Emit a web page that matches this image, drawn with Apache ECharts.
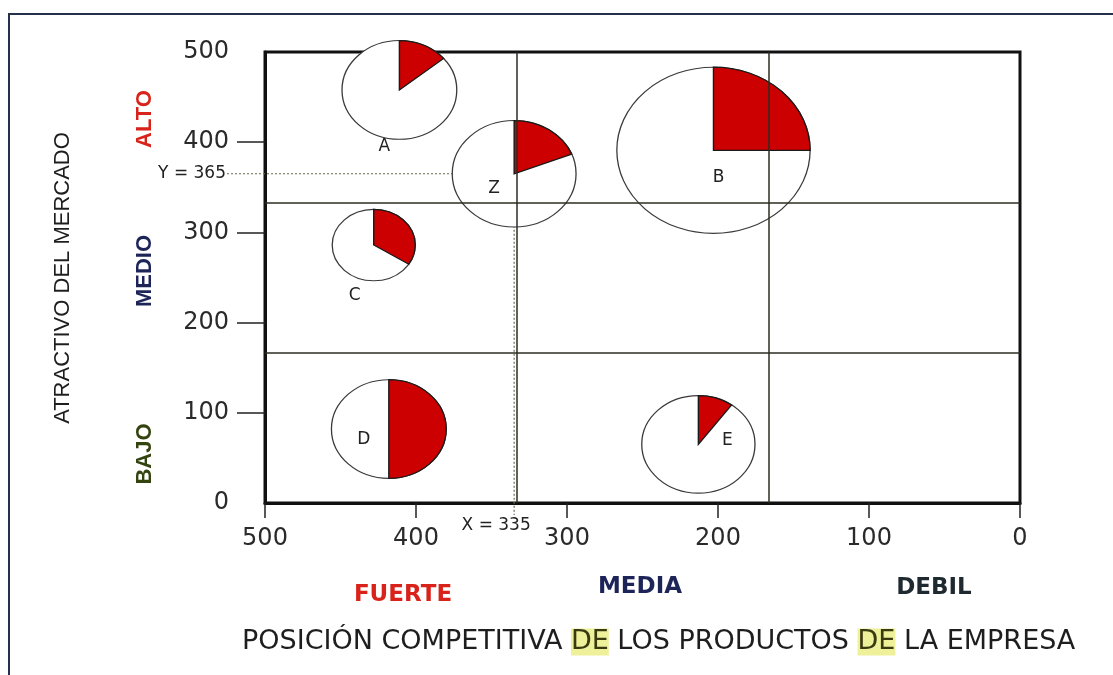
<!DOCTYPE html>
<html>
<head>
    <meta charset="utf-8">
    <title>Matriz de posición competitiva</title>
    <script src="https://cdn.jsdelivr.net/npm/echarts@6/dist/echarts.min.js"></script>
    <style>
        html, body { margin: 0; padding: 0; background: #fff; }
        #main { width: 1113px; height: 675px; }
    </style>
</head>
<body>
    <div id="main"></div>
    <script type="text/javascript">
        // productos: posicion competitiva (x) y atractivo del mercado (y)
        var productos = ['A', 'B', 'Z', 'C', 'D', 'E'];
        var posicion = [411, 203, 335, 428, 418, 213];
        var atractivo = [458, 391, 365, 286, 82, 65];
        var tamano = [38, 64, 41, 27.5, 38, 37.5];   // radio, en unidades del eje x
        var cuota = [0.14, 0.25, 0.19, 0.34, 0.50, 0.10];

        var ticksY = [100, 200, 300, 400];
        var cortes = [166.7, 333.3];
        var puntoZ = [335, 365];

        var nivelesY = ['ALTO', 'MEDIO', 'BAJO'];
        var nivelesX = ['FUERTE', 'MEDIA', 'DEBIL'];

        // estilos
        var coloresY = ['#d8221a', '#1c2458', '#34440f'];
        var coloresX = ['#d8221a', '#1c2458', '#1f2a30'];
        var centrosY = [[145, 119], [145, 271], [145, 454]];
        var centrosX = [[403, 595], [640, 587], [934, 588]];
        var etiquetaPos = {
            A: [-15, 57], B: [5, 27], Z: [-20, 15],
            C: [-19, 51], D: [-25, 11], E: [29, -4]
        };
        var ELIPSE = 0.86;

        var datos = productos.map(function (n, i) {
            return { name: n, value: [posicion[i], atractivo[i], tamano[i], cuota[i]] };
        });

        var myChart = echarts.init(document.getElementById('main'));

        function dibujarCirculo(params, api) {
            var c = api.coord([api.value(0), api.value(1)]);
            var r = api.size([api.value(2), 0])[0];
            var ang = api.value(3) * Math.PI * 2;
            var nombre = productos[params.dataIndex];
            var off = etiquetaPos[nombre];
            return {
                type: 'group',
                children: [{
                    type: 'group',
                    x: c[0],
                    y: c[1],
                    scaleY: ELIPSE,
                    children: [{
                        type: 'circle',
                        shape: { cx: 0, cy: 0, r: r },
                        style: { fill: '#fff', stroke: '#3a3a3a', lineWidth: 1.3 }
                    }, {
                        type: 'sector',
                        shape: {
                            cx: 0, cy: 0, r0: 0, r: r,
                            startAngle: -Math.PI / 2,
                            endAngle: -Math.PI / 2 + ang,
                            clockwise: true
                        },
                        style: { fill: '#cc0000', stroke: '#1a1a1a', lineWidth: 1.4 }
                    }]
                }, {
                    type: 'text',
                    x: c[0] + off[0],
                    y: c[1] + off[1],
                    style: {
                        text: nombre,
                        fill: '#222',
                        font: '17px "DejaVu Sans"',
                        align: 'center',
                        verticalAlign: 'middle'
                    }
                }]
            };
        }

        function dibujarGuias(params, api) {
            var p = api.coord([api.value(0), api.value(1)]);
            var izq = api.coord([500, api.value(1)]);
            var abajo = api.coord([api.value(0), 0]);
            var estilo = { stroke: '#6b6b50', lineWidth: 1.2, lineDash: [2, 2] };
            return {
                type: 'group',
                children: [{
                    type: 'line',
                    shape: { x1: izq[0] - 38, y1: p[1], x2: p[0], y2: p[1] },
                    style: estilo
                }, {
                    type: 'line',
                    shape: { x1: p[0], y1: p[1], x2: p[0], y2: abajo[1] + 12 },
                    style: estilo
                }, {
                    type: 'text',
                    x: izq[0] - 39,
                    y: p[1],
                    style: {
                        text: 'Y = ' + api.value(1),
                        fill: '#222', font: '17px "DejaVu Sans"',
                        align: 'right', verticalAlign: 'middle'
                    }
                }, {
                    type: 'text',
                    x: p[0] - 18,
                    y: abajo[1] + 23,
                    style: {
                        text: 'X = ' + api.value(0),
                        fill: '#222', font: '17px "DejaVu Sans"',
                        align: 'center', verticalAlign: 'middle'
                    }
                }]
            };
        }

        var graficos = [{
            type: 'rect',
            shape: { x: 9, y: 14, width: 1200, height: 700 },
            style: { fill: 'none', stroke: '#25304a', lineWidth: 2 },
            silent: true
        }, {
            type: 'text',
            x: 63, y: 278,
            rotation: Math.PI / 2,
            style: {
                text: 'ATRACTIVO DEL MERCADO',
                fill: '#1e1e1e', font: '22px "Liberation Sans"',
                align: 'center', verticalAlign: 'middle'
            }
        }, {
            type: 'text',
            x: 242, y: 642,
            style: {
                text: '{n|POSICIÓN COMPETITIVA }{h|DE}{n| LOS PRODUCTOS }{h|DE}{n| LA EMPRESA}',
                verticalAlign: 'middle',
                rich: {
                    n: { fontFamily: 'DejaVu Sans', fontSize: 27, fill: '#1e1e1e', color: '#1e1e1e' },
                    h: { fontFamily: 'DejaVu Sans', fontSize: 27, fill: '#3a3a10', color: '#3a3a10', backgroundColor: '#eef09a' }
                }
            }
        }];
        nivelesY.forEach(function (t, i) {
            graficos.push({
                type: 'text',
                x: centrosY[i][0], y: centrosY[i][1],
                rotation: Math.PI / 2,
                style: {
                    text: t, fill: coloresY[i],
                    font: 'bold 22px "Liberation Sans"',
                    align: 'center', verticalAlign: 'middle'
                }
            });
        });
        nivelesX.forEach(function (t, i) {
            graficos.push({
                type: 'text',
                x: centrosX[i][0], y: centrosX[i][1],
                style: {
                    text: t, fill: coloresX[i],
                    font: 'bold 23px "DejaVu Sans"',
                    align: 'center', verticalAlign: 'middle'
                }
            });
        });

        var option = {
            animation: false,
            backgroundColor: '#fff',
            graphic: graficos,
            grid: {
                left: 265, right: 93, top: 52, bottom: 172,
                show: true, borderColor: '#111', borderWidth: 3
            },
            xAxis: {
                type: 'value', min: 0, max: 500, interval: 100, inverse: true,
                position: 'bottom',
                splitLine: { show: false },
                axisLine: { show: true, onZero: false, lineStyle: { color: '#111', width: 3 } },
                axisTick: { show: true, inside: false, length: 15, lineStyle: { color: '#222', width: 1.5 } },
                axisLabel: { margin: 24, fontSize: 24, fontFamily: 'DejaVu Sans', color: '#2a2a2a' }
            },
            yAxis: {
                type: 'value', min: 0, max: 500, interval: 100,
                position: 'left',
                splitLine: { show: false },
                axisLine: { show: true, onZero: false, lineStyle: { color: '#111', width: 3 } },
                axisTick: { show: true, length: 28, customValues: ticksY, lineStyle: { color: '#222', width: 1.5 } },
                axisLabel: { margin: 36, fontSize: 24, fontFamily: 'DejaVu Sans', color: '#2a2a2a' }
            },
            series: [{
                type: 'line',
                data: [],
                silent: true,
                markLine: {
                    silent: true,
                    symbol: 'none',
                    label: { show: false },
                    lineStyle: { color: '#2b2d20', width: 1.5, type: 'solid' },
                    data: cortes.map(function (v) { return { xAxis: v }; })
                        .concat(cortes.map(function (v) { return { yAxis: v }; }))
                }
            }, {
                type: 'custom',
                silent: true,
                clip: false,
                renderItem: dibujarGuias,
                data: [puntoZ],
                z: 3
            }, {
                type: 'custom',
                silent: true,
                clip: false,
                renderItem: dibujarCirculo,
                data: datos,
                z: 4
            }]
        };
        myChart.setOption(option);
    </script>
</body>
</html>
